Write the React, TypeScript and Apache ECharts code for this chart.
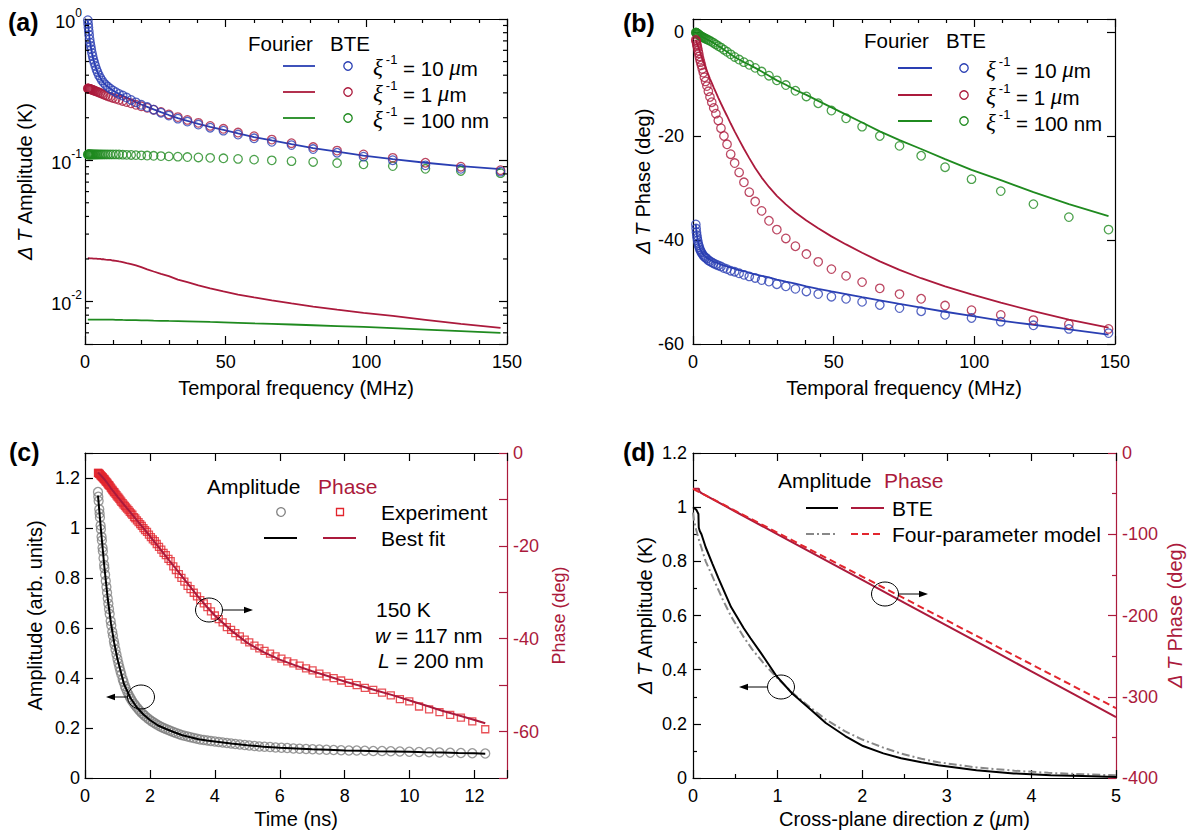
import React, { useEffect, useRef } from "react";
import * as echarts from "echarts";

const FONT = "'Liberation Sans', Arial, Helvetica, sans-serif";
const SERIF = "'Liberation Serif', 'DejaVu Serif', serif";
const BLUE = "#2a3fb3";
const CRIMSON = "#ab1a3c";
const GREEN = "#1f8a1f";
const RED = "#e2252d";
const GRAY = "#808080";

// ---------- panels (a) & (b): temporal frequency sweep ----------
const FREQ_MHZ = [1.0, 1.105, 1.22, 1.35, 1.49, 1.65, 1.82, 2.01, 2.22, 2.46, 2.71, 3.0, 3.31, 3.66, 4.05, 4.47, 4.94, 5.46, 6.03, 6.67, 7.37, 8.14, 9.0, 9.94, 11.0, 12.1, 13.4, 14.8, 16.4, 18.1, 20.0, 22.1, 24.4, 27.0, 29.8, 33.0, 36.4, 40.3, 44.5, 49.2, 54.4, 60.1, 66.4, 73.4, 81.1, 89.6, 99.0, 109.4, 121.0, 133.6, 147.7];

const AMP_BTE_10UM = [0.98, 0.92, 0.87, 0.82, 0.77, 0.72, 0.68, 0.645, 0.61, 0.575, 0.545, 0.515, 0.49, 0.465, 0.44, 0.42, 0.40, 0.383, 0.367, 0.353, 0.341, 0.331, 0.321, 0.312, 0.303, 0.295, 0.287, 0.278, 0.267, 0.257, 0.247, 0.238, 0.228, 0.217, 0.207, 0.197, 0.188, 0.179, 0.170, 0.162, 0.152, 0.143, 0.135, 0.128, 0.120, 0.113, 0.106, 0.100, 0.092, 0.087, 0.083];
const AMP_BTE_1UM = [0.322, 0.322, 0.321, 0.321, 0.320, 0.320, 0.319, 0.318, 0.317, 0.316, 0.315, 0.313, 0.311, 0.309, 0.307, 0.305, 0.302, 0.299, 0.296, 0.292, 0.288, 0.284, 0.280, 0.276, 0.272, 0.268, 0.263, 0.258, 0.253, 0.247, 0.241, 0.235, 0.228, 0.220, 0.211, 0.202, 0.193, 0.184, 0.175, 0.167, 0.157, 0.148, 0.140, 0.132, 0.124, 0.117, 0.110, 0.104, 0.096, 0.090, 0.085];
const AMP_BTE_100NM = [0.110, 0.110, 0.110, 0.110, 0.110, 0.110, 0.110, 0.110, 0.110, 0.110, 0.110, 0.110, 0.110, 0.110, 0.110, 0.110, 0.110, 0.110, 0.110, 0.110, 0.110, 0.110, 0.110, 0.110, 0.110, 0.1098, 0.1095, 0.1092, 0.109, 0.1087, 0.1083, 0.108, 0.1075, 0.107, 0.1065, 0.106, 0.1053, 0.1046, 0.104, 0.1032, 0.1022, 0.101, 0.0998, 0.0985, 0.0972, 0.0955, 0.0935, 0.091, 0.087, 0.084, 0.081];
const AMP_FOURIER_10UM = [0.98, 0.92, 0.87, 0.82, 0.77, 0.72, 0.68, 0.645, 0.61, 0.575, 0.545, 0.515, 0.49, 0.465, 0.44, 0.42, 0.40, 0.383, 0.367, 0.353, 0.341, 0.331, 0.321, 0.312, 0.303, 0.295, 0.287, 0.278, 0.268, 0.258, 0.248, 0.239, 0.229, 0.219, 0.209, 0.199, 0.19, 0.181, 0.172, 0.164, 0.155, 0.146, 0.138, 0.13, 0.122, 0.115, 0.108, 0.102, 0.096, 0.091, 0.0865];
const AMP_FOURIER_1UM = [0.0203, 0.0203, 0.0203, 0.0203, 0.0203, 0.0202, 0.0202, 0.0202, 0.0202, 0.0202, 0.0202, 0.0201, 0.0201, 0.0201, 0.0201, 0.0200, 0.0200, 0.0200, 0.0199, 0.0199, 0.0198, 0.0197, 0.0197, 0.0195, 0.0194, 0.0192, 0.0190, 0.0187, 0.0184, 0.0180, 0.0175, 0.0169, 0.0163, 0.0157, 0.0151, 0.0143, 0.0137, 0.0130, 0.0124, 0.0118, 0.0112, 0.0107, 0.0102, 0.0097, 0.0092, 0.00875, 0.0083, 0.0079, 0.00742, 0.00693, 0.0065];
const AMP_FOURIER_100NM = [0.00743, 0.00743, 0.00743, 0.00743, 0.00743, 0.00743, 0.00743, 0.00743, 0.00743, 0.00743, 0.00743, 0.00743, 0.00743, 0.00743, 0.00743, 0.00743, 0.00743, 0.00743, 0.00743, 0.00743, 0.00743, 0.00743, 0.00743, 0.00743, 0.00742, 0.00741, 0.0074, 0.00739, 0.00738, 0.00737, 0.00735, 0.00734, 0.00732, 0.0073, 0.00728, 0.00726, 0.00723, 0.0072, 0.00716, 0.00712, 0.00706, 0.007, 0.00694, 0.00687, 0.00679, 0.0067, 0.0066, 0.00647, 0.00633, 0.00617, 0.006];

const PH_BTE_10UM = [-37.0, -37.8, -38.5, -39.1, -39.6, -40.1, -40.6, -41.0, -41.4, -41.8, -42.1, -42.4, -42.7, -43.0, -43.2, -43.4, -43.6, -43.9, -44.1, -44.3, -44.5, -44.7, -44.9, -45.1, -45.4, -45.6, -45.9, -46.1, -46.4, -46.7, -47.0, -47.3, -47.7, -48.0, -48.5, -48.9, -49.4, -49.9, -50.4, -50.9, -51.3, -51.9, -52.5, -53.1, -53.7, -54.4, -55.0, -55.7, -56.4, -57.1, -57.9];
const PH_BTE_1UM = [-1.5, -1.7, -1.95, -2.4, -2.7, -3.1, -3.6, -4.1, -4.7, -5.3, -5.8, -6.4, -7.1, -7.8, -8.7, -9.5, -10.4, -11.4, -12.5, -13.5, -14.6, -15.7, -17.0, -18.5, -20.0, -21.6, -23.5, -25.2, -27.0, -28.9, -30.8, -32.6, -34.4, -36.3, -38.0, -39.7, -41.2, -42.7, -44.2, -45.6, -46.9, -48.1, -49.3, -50.4, -51.3, -52.6, -53.5, -54.4, -55.4, -56.2, -57.1];
const PH_BTE_100NM = [-0.1, -0.15, -0.2, -0.25, -0.3, -0.35, -0.4, -0.5, -0.6, -0.7, -0.75, -0.85, -0.95, -1.05, -1.15, -1.3, -1.4, -1.55, -1.7, -1.9, -2.1, -2.4, -2.7, -3.0, -3.4, -3.8, -4.3, -4.8, -5.3, -5.8, -6.3, -6.9, -7.6, -8.4, -9.3, -10.2, -11.3, -12.4, -13.7, -15.1, -16.6, -18.2, -20.0, -21.9, -23.8, -26.0, -28.3, -30.6, -33.1, -35.6, -38.0];
const PH_FOURIER_10UM = [-37.0, -37.6, -38.3, -38.9, -39.4, -39.9, -40.4, -40.8, -41.2, -41.6, -41.9, -42.2, -42.5, -42.8, -43.0, -43.2, -43.4, -43.6, -43.8, -44.0, -44.2, -44.3, -44.5, -44.7, -44.9, -45.1, -45.3, -45.5, -45.8, -46.0, -46.3, -46.6, -46.9, -47.2, -47.6, -48.0, -48.4, -48.9, -49.4, -49.9, -50.4, -51.0, -51.6, -52.3, -53.0, -53.8, -54.6, -55.5, -56.3, -57.2, -58.2];
const PH_FOURIER_1UM = [-1.5, -1.67, -1.85, -2.06, -2.28, -2.54, -2.81, -3.1, -3.43, -3.8, -4.19, -4.65, -5.11, -5.64, -6.2, -6.81, -7.5, -8.2, -9.0, -9.8, -10.7, -11.6, -12.65, -13.75, -14.95, -16.15, -17.6, -19.1, -20.75, -22.45, -24.25, -26.15, -28.0, -29.8, -31.5, -33.15, -34.7, -36.25, -37.75, -39.3, -40.85, -42.45, -44.1, -45.75, -47.35, -48.9, -50.45, -52.05, -53.7, -55.3, -56.85];
const PH_FOURIER_100NM = [-0.1, -0.15, -0.2, -0.25, -0.3, -0.35, -0.4, -0.5, -0.6, -0.7, -0.75, -0.85, -0.95, -1.05, -1.15, -1.3, -1.4, -1.55, -1.7, -1.9, -2.1, -2.4, -2.7, -3.0, -3.4, -3.8, -4.3, -4.8, -5.3, -5.8, -6.3, -6.9, -7.6, -8.4, -9.3, -10.15, -11.15, -12.1, -13.25, -14.5, -15.9, -17.4, -19.1, -20.8, -22.5, -24.45, -26.5, -28.5, -30.8, -33.1, -35.4];

const LOG_MINOR_TICKS = [0.006, 0.007, 0.008, 0.009, 0.02, 0.03, 0.04, 0.05, 0.06, 0.07, 0.08, 0.09, 0.2, 0.3, 0.4, 0.5, 0.6, 0.7, 0.8, 0.9];

// ---------- panel (c): time-domain experiment ----------
const TIME_NS = [0.40, 0.41, 0.42, 0.44, 0.45, 0.46, 0.48, 0.49, 0.51, 0.52, 0.54, 0.55, 0.57, 0.59, 0.60, 0.62, 0.64, 0.66, 0.68, 0.70, 0.72, 0.74, 0.76, 0.79, 0.81, 0.84, 0.86, 0.89, 0.91, 0.94, 0.97, 1.00, 1.03, 1.06, 1.09, 1.12, 1.16, 1.19, 1.23, 1.26, 1.30, 1.34, 1.38, 1.42, 1.46, 1.51, 1.55, 1.60, 1.65, 1.70, 1.75, 1.80, 1.85, 1.91, 1.97, 2.03, 2.09, 2.15, 2.21, 2.28, 2.35, 2.42, 2.49, 2.57, 2.64, 2.72, 2.80, 2.89, 2.97, 3.06, 3.16, 3.25, 3.35, 3.45, 3.55, 3.66, 3.77, 3.88, 4.00, 4.12, 4.24, 4.37, 4.50, 4.63, 4.77, 4.92, 5.06, 5.22, 5.37, 5.53, 5.70, 5.87, 6.05, 6.23, 6.42, 6.61, 6.81, 7.01, 7.22, 7.44, 7.66, 7.89, 8.13, 8.37, 8.62, 8.88, 9.15, 9.42, 9.70, 9.99, 10.29, 10.60, 10.92, 11.25, 11.58, 11.93, 12.33];
const EXP_AMP = [1.144, 1.125, 1.108, 1.075, 1.058, 1.042, 1.010, 0.995, 0.965, 0.950, 0.921, 0.907, 0.879, 0.852, 0.839, 0.813, 0.788, 0.764, 0.741, 0.718, 0.697, 0.676, 0.656, 0.628, 0.610, 0.585, 0.569, 0.547, 0.533, 0.513, 0.494, 0.476, 0.459, 0.443, 0.428, 0.414, 0.396, 0.384, 0.368, 0.357, 0.345, 0.334, 0.324, 0.315, 0.306, 0.297, 0.290, 0.282, 0.274, 0.267, 0.260, 0.254, 0.248, 0.241, 0.235, 0.229, 0.224, 0.219, 0.214, 0.209, 0.204, 0.200, 0.196, 0.192, 0.188, 0.184, 0.180, 0.176, 0.172, 0.169, 0.166, 0.163, 0.160, 0.157, 0.154, 0.152, 0.150, 0.148, 0.146, 0.144, 0.142, 0.140, 0.138, 0.136, 0.134, 0.132, 0.130, 0.128, 0.126, 0.125, 0.124, 0.122, 0.121, 0.120, 0.118, 0.117, 0.116, 0.115, 0.114, 0.113, 0.112, 0.111, 0.110, 0.110, 0.109, 0.108, 0.108, 0.107, 0.106, 0.105, 0.104, 0.103, 0.102, 0.101, 0.100, 0.099, 0.098];
const EXP_PHASE = [-4.3, -4.3, -4.4, -4.5, -4.5, -4.6, -4.8, -4.8, -5.0, -5.1, -5.2, -5.3, -5.5, -5.6, -5.7, -5.9, -6.1, -6.2, -6.4, -6.6, -6.8, -6.9, -7.1, -7.4, -7.6, -7.9, -8.1, -8.4, -8.5, -8.8, -9.1, -9.4, -9.6, -9.9, -10.2, -10.5, -10.8, -11.1, -11.4, -11.7, -12.0, -12.3, -12.7, -13.0, -13.3, -13.8, -14.1, -14.5, -14.9, -15.3, -15.7, -16.2, -16.6, -17.0, -17.6, -18.1, -18.6, -19.0, -19.6, -20.2, -20.8, -21.5, -22.0, -22.8, -23.3, -24.4, -25.2, -26.1, -26.9, -27.7, -28.6, -29.3, -30.1, -30.9, -31.7, -32.4, -33.2, -34.1, -35.0, -35.8, -36.5, -37.5, -38.1, -38.8, -39.5, -40.2, -40.8, -41.5, -42.1, -42.6, -43.2, -43.8, -44.3, -44.9, -45.3, -45.8, -46.4, -46.8, -47.5, -48.1, -48.5, -49.0, -49.5, -50.0, -50.6, -51.0, -51.6, -52.2, -53.0, -53.5, -54.6, -55.2, -55.8, -56.4, -57.0, -57.8, -59.5];
const FIT_TIME_NS = [0.40, 0.50, 0.60, 0.70, 0.80, 0.90, 1.00, 1.20, 1.40, 1.60, 1.80, 2.00, 2.25, 2.50, 2.75, 3.00, 3.25, 3.50, 3.75, 4.00, 4.50, 5.00, 5.50, 6.00, 6.50, 7.00, 7.50, 8.00, 8.50, 9.00, 9.50, 10.00, 10.50, 11.00, 11.50, 12.00, 12.33];
const FIT_AMP = [1.13, 0.98, 0.84, 0.718, 0.619, 0.54, 0.476, 0.376, 0.32, 0.282, 0.254, 0.232, 0.21, 0.196, 0.183, 0.171, 0.163, 0.155, 0.150, 0.146, 0.138, 0.131, 0.125, 0.121, 0.118, 0.115, 0.113, 0.110, 0.109, 0.107, 0.106, 0.105, 0.103, 0.102, 0.100, 0.099, 0.097];
const FIT_PHASE = [-4.2, -4.9, -5.7, -6.6, -7.6, -8.5, -9.4, -11.1, -12.8, -14.5, -16.2, -17.9, -20.1, -22.3, -24.5, -26.7, -28.9, -31.1, -33.1, -35.0, -38.2, -40.9, -42.9, -44.5, -45.8, -47.0, -48.1, -49.2, -50.2, -51.2, -52.2, -53.3, -54.4, -55.5, -56.5, -57.5, -58.2];

// ---------- panel (d): cross-plane profile ----------
const Z_AMP_BTE = [0, 0.02, 0.04, 0.064, 0.068, 0.08, 0.1, 0.15, 0.23, 0.3, 0.45, 0.6, 0.68, 0.8, 0.99, 1.17, 1.4, 1.57, 1.8, 2.01, 2.25, 2.46, 2.7, 2.9, 3.35, 3.79, 4.23, 4.6, 5.0];
const AMP_BTE_Z = [1.0, 0.995, 0.99, 0.975, 0.925, 0.912, 0.9, 0.852, 0.791, 0.738, 0.631, 0.553, 0.516, 0.463, 0.375, 0.313, 0.25, 0.203, 0.155, 0.118, 0.091, 0.073, 0.058, 0.047, 0.029, 0.017, 0.010, 0.007, 0.004];
const Z_AMP_4P = [0, 0.01, 0.03, 0.06, 0.1, 0.15, 0.25, 0.35, 0.45, 0.6, 0.7, 0.85, 1.0, 1.15, 1.3, 1.57, 1.8, 2.0, 2.25, 2.46, 2.7, 2.9, 3.35, 3.8, 4.2, 4.6, 5.0];
const AMP_4P_Z = [0.98, 0.955, 0.925, 0.89, 0.85, 0.80, 0.73, 0.66, 0.597, 0.52, 0.475, 0.418, 0.368, 0.322, 0.282, 0.216, 0.172, 0.142, 0.112, 0.09, 0.071, 0.058, 0.039, 0.027, 0.019, 0.014, 0.010];
const Z_PH_BTE = [0, 0.07, 0.075, 0.1, 0.5, 1, 1.5, 2, 2.5, 3, 3.5, 4, 4.5, 5];
const PH_BTE_Z = [-44, -44, -47, -49.5, -72, -100.1, -128.2, -156.3, -184.4, -212.5, -240.6, -268.7, -296.8, -325];
const Z_PH_4P = [0, 0.1, 0.5, 1, 1.5, 2, 2.5, 3, 3.5, 4, 4.5, 5];
const PH_4P_Z = [-44, -49.5, -71.1, -98.1, -125.1, -152.1, -179.1, -206.1, -233.1, -260.1, -287.1, -314];

// ---------- helpers ----------
function clean(o: any): any {
  if (Array.isArray(o)) return o.map(clean);
  if (o && typeof o === "object") {
    const r: any = {};
    Object.keys(o).forEach((k) => {
      if (o[k] !== undefined) r[k] = clean(o[k]);
    });
    return r;
  }
  return o;
}

const pairs = (xs: number[], ys: number[]) => xs.map((x, i) => [x, ys[i]]);

function ax(o: any) {
  const color = o.color || "#000";
  return {
    type: o.type || "value",
    gridIndex: o.grid,
    position: o.position,
    min: o.min,
    max: o.max,
    interval: o.interval,
    logBase: o.logBase,
    axisLine: { show: true, onZero: false, lineStyle: { color, width: 1.2 } },
    axisTick: { show: true, inside: true, length: 8, lineStyle: { color, width: 1.2 } },
    minorTick: o.minor
      ? { show: true, splitNumber: o.minor, length: 4, lineStyle: { color, width: 1.2 } }
      : { show: false },
    splitLine: { show: false },
    minorSplitLine: { show: false },
    axisLabel:
      o.labels === false
        ? { show: false }
        : {
            show: true,
            color,
            fontSize: 18,
            fontFamily: FONT,
            margin: o.margin ?? 9,
            formatter: o.formatter,
            rich: o.rich,
          },
    name: o.name,
    nameLocation: "middle",
    nameGap: o.nameGap ?? 15,
    nameTextStyle: { color, fontSize: o.nameSize || 20, fontFamily: FONT, rich: o.nameRich },
    silent: true,
  };
}

const nameRich = (color: string, size = 20) => ({
  n: { color, fontSize: size, fontFamily: FONT },
  i: { color, fontSize: size, fontFamily: FONT, fontStyle: "italic" },
});

function lineS(xi: number, yi: number, xs: number[], ys: number[], color: string, width = 1.8, type: any = "solid", z = 2) {
  return {
    type: "line",
    xAxisIndex: xi,
    yAxisIndex: yi,
    data: pairs(xs, ys),
    showSymbol: false,
    symbol: "none",
    lineStyle: { color, width, type },
    itemStyle: { color },
    silent: true,
    z,
  };
}

function scatterS(xi: number, yi: number, xs: number[], ys: number[], color: string, symbol = "circle", size = 8.5, z = 3) {
  return {
    type: "scatter",
    xAxisIndex: xi,
    yAxisIndex: yi,
    data: pairs(xs, ys),
    symbol,
    symbolSize: size,
    itemStyle: { color: "rgba(0,0,0,0)", borderColor: color, borderWidth: 1.3 },
    silent: true,
    z,
  };
}

function txt(x: number, y: number, text: string, o: any = {}) {
  return {
    type: "text",
    x,
    y,
    silent: true,
    z: 10,
    style: {
      text,
      fill: o.fill || "#000",
      fontSize: o.size || 20.5,
      fontFamily: o.family || FONT,
      fontWeight: o.weight || "normal",
      fontStyle: o.style || "normal",
      align: o.align || "left",
      verticalAlign: "middle",
      rich: o.rich,
    },
  };
}

function hline(x1: number, x2: number, y: number, stroke: string, dash?: number[], width = 1.8) {
  return {
    type: "line",
    silent: true,
    z: 10,
    shape: { x1, y1: y, x2, y2: y },
    style: { stroke, lineWidth: width, lineDash: dash },
  };
}

function ring(cx: number, cy: number, stroke: string, r = 4.2) {
  return { type: "circle", silent: true, z: 10, shape: { cx, cy, r }, style: { fill: "none", stroke, lineWidth: 1.3 } };
}

function ellipse(cx: number, cy: number, rx: number, ry: number) {
  return { type: "ellipse", silent: true, z: 10, shape: { cx, cy, rx, ry }, style: { fill: "none", stroke: "#000", lineWidth: 1 } };
}

function arrow(x1: number, x2: number, y: number) {
  const dir = x2 > x1 ? 1 : -1;
  return [
    { type: "line", silent: true, z: 10, shape: { x1, y1: y, x2: x2 - dir * 4, y2: y }, style: { stroke: "#000", lineWidth: 1 } },
    {
      type: "polygon",
      silent: true,
      z: 10,
      shape: { points: [[x2, y], [x2 - dir * 9, y - 3.2], [x2 - dir * 9, y + 3.2]] },
      style: { fill: "#000" },
    },
  ];
}

const xiRich = {
  n: { fontSize: 20.5, fontFamily: FONT, fill: "#000", lineHeight: 26, verticalAlign: "bottom" },
  g: { fontSize: 23, fontFamily: SERIF, fontStyle: "italic", fill: "#000", lineHeight: 26, verticalAlign: "bottom" },
  s: { fontSize: 13, fontFamily: FONT, fill: "#000", lineHeight: 13, verticalAlign: "top", padding: [0, 0, 0, 3] },
};

const italRich = (fill: string, size: number) => ({
  n: { fontSize: size, fontFamily: FONT, fill },
  i: { fontSize: size, fontFamily: FONT, fontStyle: "italic", fill },
});

function freqLegend(x0: number, yHead: number, rows: number[], lineX: [number, number], circX: number, textX: number) {
  const labels = ["{g|ξ}{s|-1}{n| = 10 }{g|μ}{n|m}", "{g|ξ}{s|-1}{n| = 1 }{g|μ}{n|m}", "{g|ξ}{s|-1}{n| = 100 nm}"];
  const colors = [BLUE, CRIMSON, GREEN];
  const out: any[] = [txt(x0, yHead, "Fourier"), txt(x0 + 82, yHead, "BTE")];
  rows.forEach((y, i) => {
    out.push(hline(lineX[0], lineX[1], y, colors[i]));
    out.push(ring(circX, y, colors[i]));
    out.push(txt(textX, y, labels[i], { rich: xiRich }));
  });
  return out;
}

function buildOption() {
  const logFmt = (v: number) => {
    const e = Math.log10(v);
    const r = Math.round(e);
    if (Math.abs(e - r) > 1e-6) return "";
    return `{b|10}{s|${r}}`;
  };
  const supRich = {
    b: { fontSize: 18, fontFamily: FONT, color: "#000", lineHeight: 24, verticalAlign: "bottom" },
    s: { fontSize: 12, fontFamily: FONT, color: "#000", lineHeight: 12, verticalAlign: "top" },
  };

  const xAxis = [
    ax({ grid: 0, position: "bottom", min: 0, max: 150, interval: 50, minor: 5, name: "Temporal frequency (MHz)", nameGap: 34 }),
    ax({ grid: 0, position: "top", min: 0, max: 150, interval: 50, minor: 5, labels: false }),
    ax({ grid: 1, position: "bottom", min: 0, max: 150, interval: 50, minor: 5, name: "Temporal frequency (MHz)", nameGap: 34 }),
    ax({ grid: 1, position: "top", min: 0, max: 150, interval: 50, minor: 5, labels: false }),
    ax({ grid: 2, position: "bottom", min: 0, max: 13, interval: 2, formatter: (v: number) => (v > 12.5 ? "" : String(v)), name: "Time (ns)", nameGap: 31 }),
    ax({ grid: 2, position: "top", min: 0, max: 13, interval: 2, labels: false }),
    ax({ grid: 3, position: "bottom", min: 0, max: 5, interval: 1, minor: 2, name: "{n|Cross-plane direction }{i|z}{n| (}{i|μ}{n|m)}", nameRich: nameRich("#000"), nameGap: 31 }),
    ax({ grid: 3, position: "top", min: 0, max: 5, interval: 1, minor: 2, labels: false }),
  ];

  const yAxis = [
    ax({ grid: 0, type: "log", logBase: 10, position: "left", min: 0.005, max: 1, formatter: logFmt, rich: supRich, margin: 3, name: "{i|Δ T}{n| Amplitude (K)}", nameRich: nameRich("#000"), nameGap: 50 }),
    ax({ grid: 0, type: "log", logBase: 10, position: "right", min: 0.005, max: 1, labels: false }),
    ax({ grid: 1, position: "left", min: -60, max: 2.5, interval: 20, formatter: (v: number) => (v > 0.5 ? "" : String(v)), margin: 9, name: "{i|Δ T}{n| Phase (deg)}", nameRich: nameRich("#000"), nameGap: 40 }),
    ax({ grid: 1, position: "right", min: -60, max: 2.5, interval: 20, labels: false }),
    ax({ grid: 2, position: "left", min: 0, max: 1.3, interval: 0.2, formatter: (v: number) => (v > 1.25 ? "" : String(Math.round(v * 10) / 10)), margin: 5, name: "Amplitude (arb. units)", nameGap: 40 }),
    ax({ grid: 2, position: "right", min: -70, max: 0, interval: 10, color: CRIMSON, formatter: (v: number) => (Math.round(v) % 20 === 0 ? String(Math.round(v)) : ""), margin: 6, name: "Phase (deg)", nameSize: 18, nameGap: 43 }),
    ax({ grid: 3, position: "left", min: 0, max: 1.2, interval: 0.2, minor: 2, margin: 6, formatter: (v: number) => String(Math.round(v * 10) / 10), name: "{i|Δ T}{n| Amplitude (K)}", nameRich: nameRich("#000"), nameGap: 38 }),
    ax({ grid: 3, position: "right", min: -400, max: 0, interval: 100, minor: 2, color: CRIMSON, margin: 6, name: "{i|Δ T}{n| Phase (deg)}", nameRich: nameRich(CRIMSON), nameGap: 49 }),
  ];

  const series: any[] = [
    // (a)
    lineS(0, 0, FREQ_MHZ, AMP_FOURIER_100NM, GREEN),
    lineS(0, 0, FREQ_MHZ, AMP_FOURIER_1UM, CRIMSON),
    lineS(0, 0, FREQ_MHZ, AMP_FOURIER_10UM, BLUE),
    scatterS(0, 0, FREQ_MHZ, AMP_BTE_100NM, GREEN),
    scatterS(0, 0, FREQ_MHZ, AMP_BTE_1UM, CRIMSON),
    scatterS(0, 0, FREQ_MHZ, AMP_BTE_10UM, BLUE),
    {
      type: "custom",
      xAxisIndex: 0,
      yAxisIndex: 0,
      silent: true,
      z: 6,
      clip: false,
      data: LOG_MINOR_TICKS.map((v) => [0, v]),
      renderItem: (_p: any, api: any) => {
        const v = api.value(1);
        const l = api.coord([0, v]);
        const r = api.coord([150, v]);
        return {
          type: "group",
          children: [
            { type: "line", shape: { x1: l[0], y1: l[1], x2: l[0] + 4, y2: l[1] }, style: { stroke: "#000", lineWidth: 1.2 } },
            { type: "line", shape: { x1: r[0] - 4, y1: r[1], x2: r[0], y2: r[1] }, style: { stroke: "#000", lineWidth: 1.2 } },
          ],
        };
      },
    },
    // (b)
    lineS(2, 2, FREQ_MHZ, PH_FOURIER_100NM, GREEN),
    lineS(2, 2, FREQ_MHZ, PH_FOURIER_1UM, CRIMSON),
    lineS(2, 2, FREQ_MHZ, PH_FOURIER_10UM, BLUE),
    scatterS(2, 2, FREQ_MHZ, PH_BTE_100NM, GREEN),
    scatterS(2, 2, FREQ_MHZ, PH_BTE_1UM, CRIMSON),
    scatterS(2, 2, FREQ_MHZ, PH_BTE_10UM, BLUE),
    // (c)
    scatterS(4, 4, TIME_NS, EXP_AMP, GRAY, "circle", 9),
    scatterS(4, 5, TIME_NS, EXP_PHASE, RED, "rect", 7),
    lineS(4, 4, FIT_TIME_NS, FIT_AMP, "#000", 2, "solid", 4),
    lineS(4, 5, FIT_TIME_NS, FIT_PHASE, CRIMSON, 2, "solid", 4),
    // (d)
    lineS(6, 6, Z_AMP_4P, AMP_4P_Z, "#888888", 2, [8, 3, 2, 3], 2),
    lineS(6, 6, Z_AMP_BTE, AMP_BTE_Z, "#000", 2, "solid", 3),
    lineS(6, 7, Z_PH_BTE, PH_BTE_Z, CRIMSON, 2, "solid", 3),
    lineS(6, 7, Z_PH_4P, PH_4P_Z, RED, 2, [7, 4], 4),
  ];

  const graphic: any[] = [
    txt(8, 22, "(a)", { size: 25, weight: "bold" }),
    txt(623, 23, "(b)", { size: 25, weight: "bold" }),
    txt(9, 452, "(c)", { size: 25, weight: "bold" }),
    txt(623, 452, "(d)", { size: 25, weight: "bold" }),
    ...freqLegend(248, 43, [66, 92, 118], [283, 315], 348, 373),
    ...freqLegend(864, 40, [68, 95, 121], [898, 932], 964, 986),
    // (c) legend
    txt(207, 486, "Amplitude", { size: 21 }),
    txt(318, 486, "Phase", { size: 21, fill: CRIMSON }),
    { type: "circle", silent: true, z: 10, shape: { cx: 281, cy: 512, r: 4.3 }, style: { fill: "none", stroke: GRAY, lineWidth: 1.3 } },
    { type: "rect", silent: true, z: 10, shape: { x: 336.5, y: 508.5, width: 7, height: 7 }, style: { fill: "none", stroke: RED, lineWidth: 1.3 } },
    txt(381, 512, "Experiment", { size: 21 }),
    hline(264, 297, 538, "#000", undefined, 2),
    hline(323, 356, 538, CRIMSON, undefined, 2),
    txt(381, 538, "Best fit", { size: 21 }),
    txt(376, 609, "150 K", { size: 21 }),
    txt(375, 635, "{i|w}{n| = 117 nm}", { size: 21, rich: italRich("#000", 21) }),
    txt(378, 660, "{i|L}{n| = 200 nm}", { size: 21, rich: italRich("#000", 21) }),
    ellipse(209, 610, 13.5, 12),
    ...arrow(223, 253, 610),
    ellipse(141, 697, 13.5, 12),
    ...arrow(127, 106, 697),
    // (d) legend
    txt(778, 480, "Amplitude", { size: 21 }),
    txt(884, 480, "Phase", { size: 21, fill: CRIMSON }),
    hline(806, 838, 508, "#000", undefined, 2),
    hline(851, 884, 508, CRIMSON, undefined, 2),
    txt(892, 508, "BTE", { size: 21 }),
    hline(806, 838, 534, "#888888", [8, 3, 2, 3], 2),
    hline(851, 884, 534, RED, [7, 4], 2),
    txt(892, 534, "Four-parameter model", { size: 21 }),
    ellipse(885, 594, 13.5, 12),
    ...arrow(899, 928, 594),
    ellipse(781, 687, 13.5, 12),
    ...arrow(767, 739, 687),
  ];

  return clean({
    animation: false,
    backgroundColor: "#ffffff",
    textStyle: { fontFamily: FONT },
    grid: [
      { left: 85, top: 19, width: 422, height: 325 },
      { left: 693, top: 19, width: 422, height: 325 },
      { left: 85, top: 453, width: 422, height: 325 },
      { left: 693, top: 453, width: 423, height: 325 },
    ],
    xAxis,
    yAxis,
    series,
    graphic,
  });
}

export default function App() {
  const ref = useRef<HTMLDivElement>(null);
  useEffect(() => {
    if (!ref.current) return;
    const chart = echarts.init(ref.current, null, { renderer: "svg" });
    chart.setOption(buildOption());
    return () => chart.dispose();
  }, []);
  return (
    <div
      ref={ref}
      style={{ position: "absolute", left: 0, top: 0, width: 1190, height: 833, background: "#fff" }}
    />
  );
}
